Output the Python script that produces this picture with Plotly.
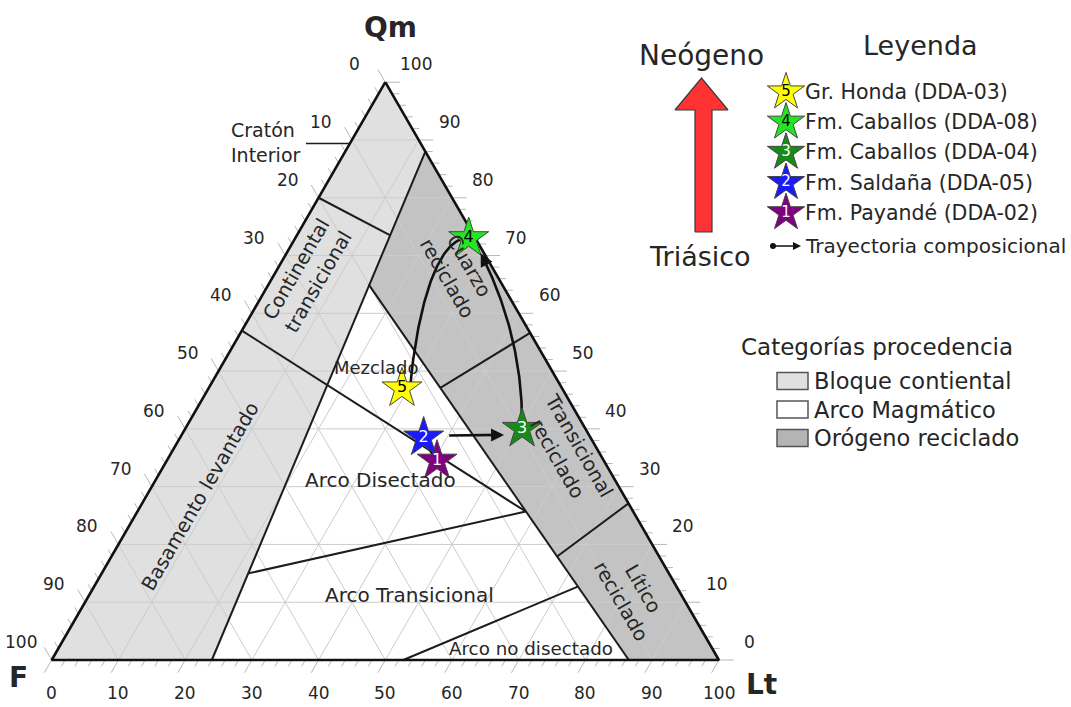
import numpy as np
import plotly.graph_objects as go

# ---------------- data ----------------
# Detrital modes of the sandstone samples, Qm-F-Lt (%)
sample_num = ["1", "2", "3", "4", "5"]
sample_label = ["Fm. Payandé (DDA-02)", "Fm. Saldaña (DDA-05)",
                "Fm. Caballos (DDA-04)", "Fm. Caballos (DDA-08)",
                "Gr. Honda (DDA-03)"]
qm = [34.5, 38.5, 40.0, 73.0, 47.0]
f = [25.0, 25.0, 9.5, 1.0, 24.0]
lt = [40.5, 36.5, 50.5, 26.0, 29.0]
star_fill = ["#800080", "#1a1aff", "#178a17", "#22e622", "#ffff00"]
num_color = ["white", "white", "white", "black", "black"]

tick_values = list(range(0, 101, 10))

# Provenance fields (Qm, F, Lt)
bloque_continental = [(100, 0, 0), (0, 100, 0), (0, 76, 24), (88, 0, 12)]
orogeno_reciclado = [(88, 0, 12), (0, 0, 100), (0, 13.5, 86.5), (65, 20, 15)]
field_lines = [
    [(0, 76, 24), (88, 0, 12)],
    [(0, 13.5, 86.5), (65, 20, 15)],
    [(80, 20, 0), (73.5, 12.5, 14)],
    [(57, 43, 0), (25.7, 16.1, 58.2)],
    [(15, 63, 22), (25.7, 16.1, 58.2)],
    [(0, 47.3, 52.7), (12.7, 14.8, 72.5)],
    [(56.6, 0, 43.4), (47.1, 18.2, 34.7)],
    [(27.1, 0, 72.9), (17.9, 15.3, 66.8)],
]

# ---------------- geometry helpers ----------------
R3 = np.sqrt(3) / 2
W, H = 1071, 707
SCALE = 6.672            # px per percent unit
X0, Y0 = 51.7, 660.0     # screen position of the F vertex
FONT = "DejaVu Sans"
TXT = "#262626"


def tern(q, fe, l):
    s = q + fe + l
    q, l = 100.0 * q / s, 100.0 * l / s
    return l + q / 2.0, q * R3


def pix(px, py):
    return (px - X0) / SCALE, (Y0 - py) / SCALE


def off(dx, dy):
    return np.array([dx / SCALE, -dy / SCALE])


traces = []
annotations = []
shapes = []


def line_trace(xs, ys, color, width):
    return go.Scatter(x=xs, y=ys, mode="lines", line=dict(color=color, width=width),
                      hoverinfo="skip", showlegend=False)


def label(x, y, text, size, **kw):
    d = dict(x=x, y=y, xref="x", yref="y", text=text, showarrow=False,
             font=dict(family=FONT, size=size, color=TXT))
    d.update(kw)
    annotations.append(d)


# ---------------- field fills ----------------
for pts, col in [(bloque_continental, "#e0e0e0"), (orogeno_reciclado, "#c3c3c3")]:
    xy = [tern(*p) for p in pts] + [tern(*pts[0])]
    traces.append(go.Scatter(x=[p[0] for p in xy], y=[p[1] for p in xy], mode="lines",
                             fill="toself", fillcolor=col, line=dict(width=0),
                             hoverinfo="skip", showlegend=False))

# ---------------- grid ----------------
gx, gy = [], []
for v in range(10, 100, 10):
    for a, b in [((v, 100 - v, 0), (v, 0, 100 - v)),
                 ((100 - v, v, 0), (0, v, 100 - v)),
                 ((100 - v, 0, v), (0, 100 - v, v))]:
        p, r = tern(*a), tern(*b)
        gx += [p[0], r[0], None]
        gy += [p[1], r[1], None]
traces.append(line_trace(gx, gy, "#cccccc", 1))

# ---------------- outer ticks ----------------
tx, ty = [], []
for v in range(0, 101, 2):
    ln = 2.2 if v % 10 == 0 else 1.1
    for base, d in [(tern(0, 100 - v, v), (-0.5, -R3)),
                    (tern(v, 0, 100 - v), (1.0, 0.0)),
                    (tern(100 - v, v, 0), (-0.5, R3))]:
        tx += [base[0], base[0] + ln * d[0], None]
        ty += [base[1], base[1] + ln * d[1], None]
traces.append(line_trace(tx, ty, "#b8b8b8", 1))

# ---------------- field boundaries and outline ----------------
bx, by = [], []
for seg in field_lines:
    for p in seg:
        c = tern(*p)
        bx.append(c[0]); by.append(c[1])
    bx.append(None); by.append(None)
traces.append(line_trace(bx, by, "#1c1c1c", 2))

corners = [tern(100, 0, 0), tern(0, 100, 0), tern(0, 0, 100), tern(100, 0, 0)]
traces.append(line_trace([c[0] for c in corners], [c[1] for c in corners], "#111111", 2.6))

# ---------------- compositional trajectory ----------------
star_xy = [np.array(tern(a, b, c)) for a, b, c in zip(qm, f, lt)]
S1, S2, S3, S4, S5 = star_xy


def bezier(p0, p1, p2, p3, n=80):
    t = np.linspace(0, 1, n)[:, None]
    return (1 - t) ** 3 * p0 + 3 * (1 - t) ** 2 * t * p1 + 3 * (1 - t) * t ** 2 * p2 + t ** 3 * p3


traces.append(line_trace([S1[0], S2[0]], [S1[1], S2[1]], "#111111", 4))

c34 = [S3, S3 + off(1, -70), S4 + off(36, 62), S4 + off(12, 15)]
cur = bezier(*c34)
traces.append(line_trace(cur[:-3, 0], cur[:-3, 1], "#111111", 2.6))
tail = c34[3] - 0.12 * (c34[3] - c34[2])
annotations.append(dict(x=c34[3][0], y=c34[3][1], ax=tail[0], ay=tail[1], xref="x", yref="y",
                        axref="x", ayref="y", text="", showarrow=True, arrowhead=2,
                        arrowsize=1, arrowwidth=2.6, arrowcolor="#111111"))

c45 = [S4, S4 + off(-29, -2), S5 + off(16, -88), S5 + off(8, 0)]
cur = bezier(*c45)
traces.append(line_trace(cur[:, 0], cur[:, 1], "#111111", 2.6))

p_end = S3 + off(-18, 6)
p_start = S2 + off(24, -2)
annotations.append(dict(x=p_end[0], y=p_end[1], ax=p_start[0], ay=p_start[1], xref="x", yref="y",
                        axref="x", ayref="y", text="", showarrow=True, arrowhead=2,
                        arrowsize=1, arrowwidth=2.6, arrowcolor="#111111"))

# ---------------- samples ----------------
traces.append(go.Scatter(
    x=[p[0] for p in star_xy], y=[p[1] for p in star_xy], mode="markers+text",
    marker=dict(symbol="star", size=30, color=star_fill, line=dict(color="#444444", width=1)),
    text=sample_num, textposition="middle center",
    textfont=dict(family=FONT, size=16, color=num_color),
    hovertext=sample_label, hoverinfo="text", showlegend=False))

# ---------------- axis labels ----------------
for v in tick_values:
    x, y = tern(v, 0, 100 - v)
    label(x, y, str(v), 17, xshift=31, yshift=18)
    x, y = tern(100 - v, v, 0)
    label(x, y, str(v), 17, xshift=-31, yshift=18)
    x, y = tern(0, 100 - v, v)
    label(x, y, str(v), 17, yshift=-33)

x, y = pix(390, 27)
label(x, y, "<b>Qm</b>", 28)
x, y = pix(18, 677)
label(x, y, "<b>F</b>", 28)
x, y = pix(761, 684)
label(x, y, "<b>Lt</b>", 28)

# ---------------- field names ----------------
x, y = pix(229, 142)
label(x, y, "Cratón<br>Interior", 19, xanchor="left", align="left")
p = tern(89.4, 10.6, 0)
q = (p[0] - 44 / SCALE, p[1])
shapes.append(dict(type="line", xref="x", yref="y", x0=q[0], y0=q[1], x1=p[0], y1=p[1],
                   line=dict(color="#1c1c1c", width=1.5)))

for px_, py_, txt, ang in [
        (307, 276, "Continental<br>transicional", -60),
        (200, 496, "Basamento levantado", -60),
        (458, 272, "Cuarzo<br>reciclado", 60),
        (568, 452, "Transicional<br>reciclado", 60),
        (632, 595, "Lítico<br>reciclado", 60)]:
    x, y = pix(px_, py_)
    label(x, y, txt, 19.5, textangle=ang)

for px_, py_, txt, fs in [(376, 367, "Mezclado", 18), (380, 480, "Arco Disectado", 20),
                          (409, 595, "Arco Transicional", 20),
                          (531, 648, "Arco no disectado", 18.3)]:
    x, y = pix(px_, py_)
    label(x, y, txt, fs)

# ---------------- time arrow ----------------
arrow_px = [(695, 232), (695, 110), (675, 110), (701.5, 78), (728, 110), (712, 110), (712, 232), (695, 232)]
axy = [pix(*p) for p in arrow_px]
traces.append(go.Scatter(x=[p[0] for p in axy], y=[p[1] for p in axy], mode="lines",
                         fill="toself", fillcolor="#ff3333", line=dict(color="#3a3a3a", width=1.2),
                         hoverinfo="skip", showlegend=False))
x, y = pix(701, 55)
label(x, y, "Neógeno", 28)
x, y = pix(700, 256)
label(x, y, "Triásico", 27)

# ---------------- legend ----------------
x, y = pix(920, 45)
label(x, y, "Leyenda", 27)

lx, ly0, dly = 786, 92, 30.2
order = [4, 3, 2, 1, 0]
leg_pts = [pix(lx, ly0 + k * dly) for k in range(len(order))]
traces.append(go.Scatter(
    x=[p[0] for p in leg_pts], y=[p[1] for p in leg_pts], mode="markers+text",
    marker=dict(symbol="star", size=28, color=[star_fill[i] for i in order],
                line=dict(color="#444444", width=1)),
    text=[sample_num[i] for i in order], textposition="middle center",
    textfont=dict(family=FONT, size=15, color=[num_color[i] for i in order]),
    hoverinfo="skip", showlegend=False))
for k, i in enumerate(order):
    x, y = pix(803, ly0 + k * dly)
    label(x, y, sample_label[i], 20.5, xanchor="left")

ty_ = ly0 + len(order) * dly + 3
d0 = pix(773, ty_)
traces.append(go.Scatter(x=[d0[0]], y=[d0[1]], mode="markers",
                         marker=dict(size=6, color="#111111"), hoverinfo="skip", showlegend=False))
a1 = pix(801, ty_)
annotations.append(dict(x=a1[0], y=a1[1], ax=d0[0], ay=d0[1], xref="x", yref="y", axref="x",
                        ayref="y", text="", showarrow=True, arrowhead=2, arrowsize=1,
                        arrowwidth=1.6, arrowcolor="#111111"))
x, y = pix(803, ty_)
label(x, y, "Trayectoria composicional", 20, xanchor="left")

x, y = pix(877, 347)
label(x, y, "Categorías procedencia", 23)
for k, (txt, col) in enumerate([("Bloque contiental", "#e0e0e0"),
                                ("Arco Magmático", "#ffffff"),
                                ("Orógeno reciclado", "#b4b4b4")]):
    cy = 381 + k * 28.5
    p0, p1 = pix(777, cy - 8.5), pix(808, cy + 8.5)
    shapes.append(dict(type="rect", xref="x", yref="y", x0=p0[0], y0=p0[1], x1=p1[0], y1=p1[1],
                       fillcolor=col, line=dict(color="#555555", width=1.5)))
    x, y = pix(812, cy)
    label(x, y, txt, 22.5, xanchor="left")

# ---------------- figure ----------------
fig = go.Figure(traces)
xr0, yr1 = pix(0, 0)
xr1, yr0 = pix(W, H)
fig.update_layout(
    width=W, height=H, margin=dict(l=0, r=0, t=0, b=0),
    paper_bgcolor="white", plot_bgcolor="white",
    xaxis=dict(range=[xr0, xr1], visible=False, fixedrange=True),
    yaxis=dict(range=[yr0, yr1], visible=False, fixedrange=True),
    annotations=annotations, shapes=shapes, showlegend=False,
)
fig.write_html("out.html")
